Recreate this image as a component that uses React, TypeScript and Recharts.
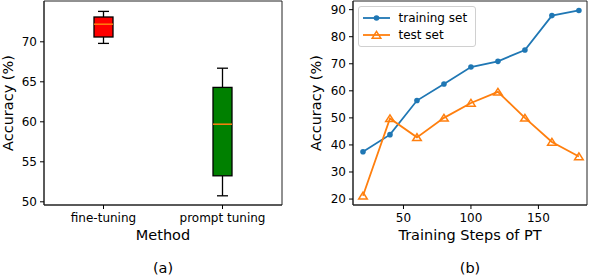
import React from 'react';
import {
  ComposedChart, Bar, LineChart, Line, XAxis, YAxis, Label, Legend, ReferenceArea,
} from 'recharts';

// (a) box plot summary per method
const methods = ['fine-tuning', 'prompt tuning'];
const whiskerLow = [69.8, 50.75];
const q1 = [70.6, 53.25];
const medians = [72.2, 59.7];
const q3 = [73.1, 64.3];
const whiskerHigh = [73.8, 66.7];
const boxTicks = [50, 55, 60, 65, 70];

// (b) accuracy vs training steps
const steps = [20, 40, 60, 80, 100, 120, 140, 160, 180];
const trainingAcc = [37.5, 43.8, 56.4, 62.5, 68.8, 70.9, 75.1, 87.8, 89.7];
const testAcc = [21.2, 49.8, 42.8, 50.0, 55.5, 59.6, 50.0, 41.1, 35.7];
const stepTicks = [50, 100, 150];
const accTicks = [20, 30, 40, 50, 60, 70, 80, 90];

const FONT = '"DejaVu Sans", sans-serif';
const BLUE = '#1f77b4';
const ORANGE = '#ff7f0e';
const SPINE = '#222';
const boxColors = ['#ff0000', '#008000'];

const boxX: [number, number] = [-0.5, 1.5];
const boxY: [number, number] = [49.6, 75.1];
const lineX: [number, number] = [12.6, 186];
const lineY: [number, number] = [17.8, 93.2];

const boxData = methods.map((m, i) => ({
  pos: i,
  method: m,
  range: [whiskerLow[i], whiskerHigh[i]],
  q1: q1[i],
  median: medians[i],
  q3: q3[i],
  color: boxColors[i],
}));

const lineData = steps.map((s, i) => ({ step: s, train: trainingAcc[i], test: testAcc[i] }));

const tickStyle = { fontSize: 12, fill: '#000', fontFamily: FONT };
const labelStyle = { fontSize: 14.5, fill: '#000', fontFamily: FONT };

// draws one box + whiskers, scaled from the bar's [low, high] pixel range
const BoxShape = (props: any) => {
  const { x, y, width, height, payload } = props;
  const [lo, hi] = payload.range;
  const top = Math.min(y, y + height);
  const h = Math.abs(height);
  const py = (v: number) => top + ((hi - v) / (hi - lo)) * h;
  const cx = x + width / 2;
  const cap = 5.5;
  return (
    <g>
      <line x1={cx} x2={cx} y1={py(hi)} y2={py(payload.q3)} stroke="#000" strokeWidth={1.3} />
      <line x1={cx} x2={cx} y1={py(payload.q1)} y2={py(lo)} stroke="#000" strokeWidth={1.3} />
      <line x1={cx - cap} x2={cx + cap} y1={py(hi)} y2={py(hi)} stroke="#000" strokeWidth={1.3} />
      <line x1={cx - cap} x2={cx + cap} y1={py(lo)} y2={py(lo)} stroke="#000" strokeWidth={1.3} />
      <rect
        x={x}
        y={py(payload.q3)}
        width={width}
        height={py(payload.q1) - py(payload.q3)}
        fill={payload.color}
        stroke="#000"
        strokeWidth={1.3}
      />
      <line x1={x} x2={x + width} y1={py(payload.median)} y2={py(payload.median)} stroke={ORANGE} strokeWidth={1.5} />
    </g>
  );
};

const YLabel = ({ x, cy, text }: { x: number; cy: number; text: string }) => (
  <text
    x={x}
    y={cy}
    transform={`rotate(-90, ${x}, ${cy})`}
    textAnchor="middle"
    dominantBaseline="central"
    fontSize={14.5}
    fontFamily={FONT}
    fill="#000"
  >
    {text}
  </text>
);

const Triangle = (props: any) => {
  const { cx, cy, index } = props;
  if (cx == null || cy == null) return null;
  return (
    <path
      key={`tri-${index}`}
      d={`M${cx},${cy - 3.6} L${cx + 4.3},${cy + 3.2} L${cx - 4.3},${cy + 3.2} Z`}
      fill="none"
      stroke={ORANGE}
      strokeWidth={1.5}
    />
  );
};

const LegendBox = () => (
  <div
    style={{
      border: '1px solid #d0d0d0',
      borderRadius: 3,
      padding: '2px 8px 2px 4px',
      background: 'rgba(255,255,255,0.8)',
      fontFamily: FONT,
      fontSize: 12,
      color: '#000',
    }}
  >
    {[
      { name: 'training set', color: BLUE, tri: false },
      { name: 'test set', color: ORANGE, tri: true },
    ].map((e) => (
      <div key={e.name} style={{ display: 'flex', alignItems: 'center', height: 17.6 }}>
        <svg width={27} height={12} style={{ marginRight: 8.5 }}>
          <line x1={0} x2={27} y1={6} y2={6} stroke={e.color} strokeWidth={1.8} />
          {e.tri ? (
            <path d="M13.5,2.4 L17.8,9.2 L9.2,9.2 Z" fill="none" stroke={e.color} strokeWidth={1.5} />
          ) : (
            <circle cx={13.5} cy={6} r={2.8} fill={e.color} />
          )}
        </svg>
        <span style={{ lineHeight: '12px' }}>{e.name}</span>
      </div>
    ))}
  </div>
);

export default function App() {
  return (
    <div style={{ position: 'absolute', left: 0, top: 0, width: 592, height: 276, background: '#fff' }}>
      <div style={{ position: 'absolute', left: 0, top: 0 }}>
        <ComposedChart width={300} height={276} data={boxData} margin={{ top: 1, right: 18, bottom: 0, left: 0 }}>
          <XAxis
            dataKey="pos"
            type="number"
            domain={boxX}
            ticks={[0, 1]}
            tickFormatter={(v) => methods[v]}
            allowDataOverflow
            height={71}
            tick={tickStyle}
            tickSize={4}
            tickMargin={4}
            axisLine={{ stroke: SPINE }}
            tickLine={{ stroke: '#000' }}
          >
            <Label value="Method" position="insideTop" offset={25} style={labelStyle} />
            <Label value="(a)" position="insideTop" offset={58} style={labelStyle} />
          </XAxis>
          <YAxis
            width={44}
            domain={boxY}
            ticks={boxTicks}
            type="number"
            allowDataOverflow
            tick={tickStyle}
            tickSize={4}
            tickMargin={3}
            axisLine={{ stroke: SPINE }}
            tickLine={{ stroke: '#000' }}
            label={{ content: () => <YLabel x={7.5} cy={103} text="Accuracy (%)" /> }}
          />
          <Bar dataKey="range" barSize={19} shape={BoxShape} isAnimationActive={false} />
          {/* frame: top and right spines */}
          <ReferenceArea x1={boxX[0]} x2={boxX[1]} y1={boxY[0]} y2={boxY[1]} fill="none" stroke={SPINE} strokeWidth={1} ifOverflow="visible" />
        </ComposedChart>
      </div>
      <div style={{ position: 'absolute', left: 300, top: 0 }}>
        <LineChart width={292} height={276} data={lineData} margin={{ top: 1, right: 5, bottom: 0, left: 0 }}>
          <XAxis
            dataKey="step"
            type="number"
            domain={lineX}
            ticks={stepTicks}
            allowDataOverflow
            height={71}
            tick={tickStyle}
            tickSize={4}
            tickMargin={4}
            axisLine={{ stroke: SPINE }}
            tickLine={{ stroke: '#000' }}
          >
            <Label value="Training Steps of PT" position="insideTop" offset={25} style={labelStyle} />
            <Label value="(b)" position="insideTop" offset={58} style={labelStyle} />
          </XAxis>
          <YAxis
            width={53}
            type="number"
            domain={lineY}
            ticks={accTicks}
            allowDataOverflow
            tick={tickStyle}
            tickSize={4}
            tickMargin={3}
            axisLine={{ stroke: SPINE }}
            tickLine={{ stroke: '#000' }}
            label={{ content: () => <YLabel x={16} cy={103} text="Accuracy (%)" /> }}
          />
          <ReferenceArea x1={lineX[0]} x2={lineX[1]} y1={lineY[0]} y2={lineY[1]} fill="none" stroke={SPINE} strokeWidth={1} ifOverflow="visible" />
          <Line
            dataKey="train"
            stroke={BLUE}
            strokeWidth={1.8}
            dot={{ r: 2.8, fill: BLUE, stroke: BLUE, strokeWidth: 0 }}
            isAnimationActive={false}
          />
          <Line
            dataKey="test"
            stroke={ORANGE}
            strokeWidth={1.8}
            dot={Triangle}
            isAnimationActive={false}
          />
          <Legend
            layout="vertical"
            align="center"
            verticalAlign="middle"
            content={() => <LegendBox />}
            wrapperStyle={{ position: 'absolute', left: 58, top: 6, width: 'auto' }}
          />
        </LineChart>
      </div>
    </div>
  );
}
